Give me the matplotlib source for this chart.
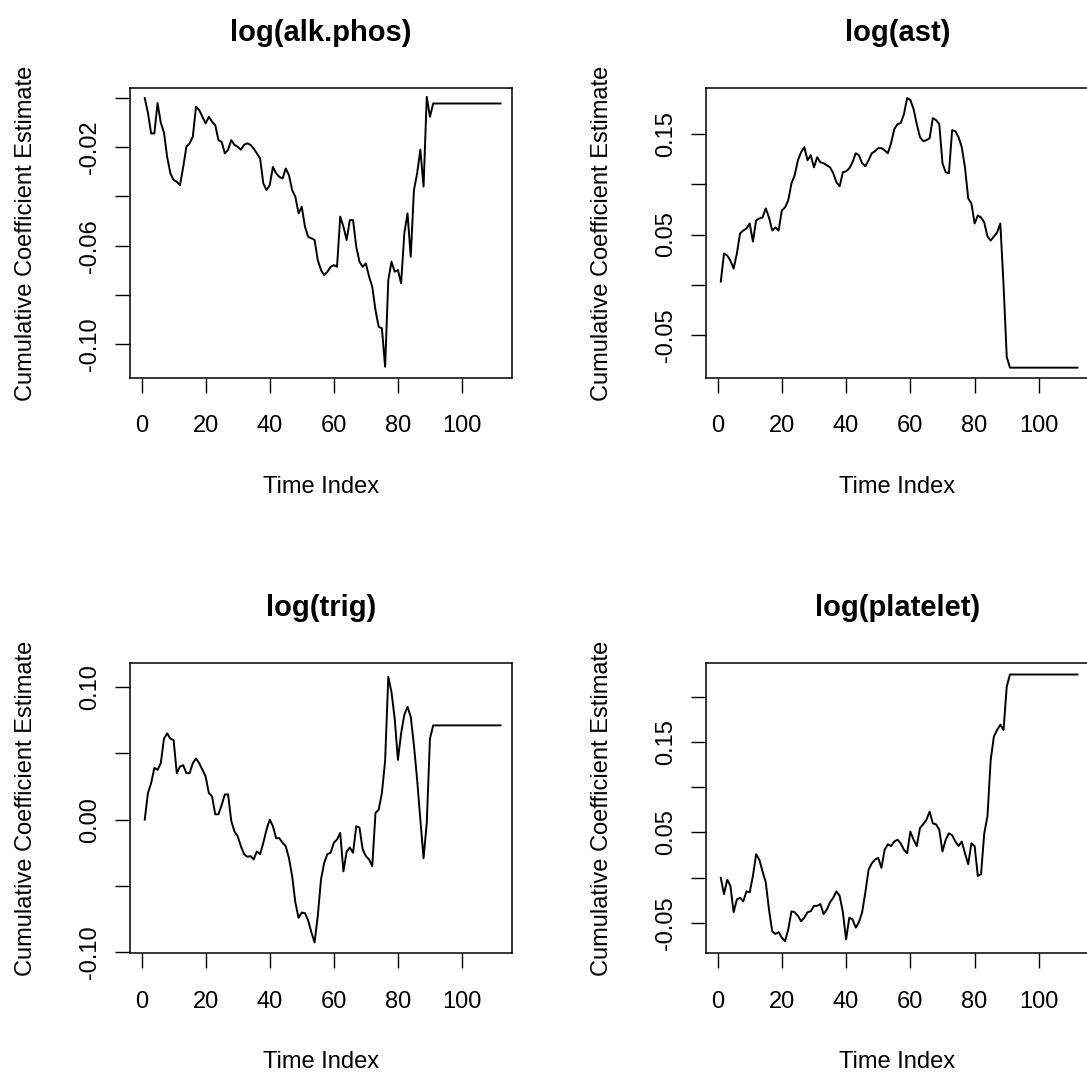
import matplotlib
matplotlib.use("Agg")
import matplotlib.pyplot as plt
import numpy as np

# cumulative coefficient estimates (time index 1..112)
alk_phos = [0.000, -0.006, -0.0144, -0.0144, -0.002, -0.010, -0.014, -0.024, -0.0306, -0.0333,
            -0.034, -0.0354, -0.028, -0.0198, -0.0184, -0.0157, -0.0035, -0.0049, -0.0076, -0.0103,
            -0.0076, -0.0096, -0.011, -0.0171, -0.0178, -0.0225, -0.021, -0.0171, -0.019, -0.0198,
            -0.021, -0.019, -0.0184, -0.019, -0.0205, -0.0225, -0.0245, -0.0347, -0.0374, -0.0354,
            -0.028, -0.0306, -0.032, -0.0327, -0.0286, -0.0313, -0.0374, -0.0401, -0.0469, -0.0442,
            -0.0523, -0.0564, -0.057, -0.0577, -0.0659, -0.0699, -0.072, -0.0706, -0.0686, -0.0679,
            -0.0686, -0.0482, -0.0523, -0.0577, -0.0496, -0.0496, -0.0604, -0.0665, -0.0686, -0.0672,
            -0.0726, -0.0767, -0.0862, -0.093, -0.0936, -0.1092, -0.074, -0.0665, -0.0706, -0.0699,
            -0.0753, -0.055, -0.0469, -0.0645, -0.0374, -0.0306, -0.021, -0.036, 0.0005, -0.0076]
alk_phos += [-0.0022] * 22

ast = [0.003, 0.031, 0.029, 0.024, 0.016, 0.031, 0.051, 0.054, 0.056, 0.061,
       0.043, 0.064, 0.066, 0.067, 0.076, 0.067, 0.054, 0.057, 0.054, 0.074,
       0.077, 0.084, 0.101, 0.109, 0.124, 0.132, 0.137, 0.124, 0.129, 0.117,
       0.127, 0.122, 0.121, 0.119, 0.117, 0.111, 0.102, 0.098, 0.112, 0.113,
       0.116, 0.122, 0.131, 0.129, 0.121, 0.118, 0.124, 0.131, 0.133, 0.136,
       0.136, 0.134, 0.131, 0.141, 0.155, 0.160, 0.161, 0.170, 0.186, 0.184,
       0.175, 0.160, 0.147, 0.143, 0.144, 0.146, 0.166, 0.164, 0.160, 0.121,
       0.112, 0.111, 0.154, 0.153, 0.147, 0.137, 0.117, 0.086, 0.081, 0.061,
       0.069, 0.067, 0.062, 0.048, 0.044, 0.048, 0.052, 0.061, 0.000, -0.072]
ast += [-0.0827] * 22

trig = [0.0, 0.020, 0.0275, 0.039, 0.0375, 0.0425, 0.061, 0.065, 0.061, 0.060,
        0.035, 0.040, 0.041, 0.035, 0.035, 0.0425, 0.046, 0.0425, 0.0375, 0.0325,
        0.020, 0.0175, 0.004, 0.004, 0.011, 0.019, 0.019, -0.001, -0.009, -0.0125,
        -0.020, -0.026, -0.028, -0.0275, -0.030, -0.024, -0.026, -0.0175, -0.0075, 0.0,
        -0.005, -0.014, -0.014, -0.0175, -0.020, -0.029, -0.0425, -0.0625, -0.074, -0.070,
        -0.0705, -0.076, -0.085, -0.0925, -0.0725, -0.045, -0.0325, -0.026, -0.025, -0.0175,
        -0.015, -0.010, -0.039, -0.024, -0.021, -0.025, -0.005, -0.006, -0.0225, -0.0275,
        -0.030, -0.035, 0.005, 0.0075, 0.020, 0.044, 0.1075, 0.096, 0.076, 0.045,
        0.065, 0.079, 0.085, 0.0775, 0.056, 0.030, 0.0, -0.029, -0.0025, 0.061]
trig += [0.071] * 22

platelet = [0.0, -0.018, -0.002, -0.009, -0.038, -0.024, -0.022, -0.026, -0.015, -0.016,
            0.002, 0.026, 0.020, 0.007, -0.005, -0.035, -0.059, -0.062, -0.060, -0.066,
            -0.070, -0.057, -0.037, -0.038, -0.042, -0.048, -0.044, -0.038, -0.037, -0.031,
            -0.031, -0.029, -0.040, -0.035, -0.027, -0.022, -0.015, -0.020, -0.038, -0.068,
            -0.044, -0.046, -0.055, -0.049, -0.038, -0.016, 0.009, 0.016, 0.020, 0.022,
            0.011, 0.031, 0.037, 0.035, 0.040, 0.042, 0.038, 0.031, 0.027, 0.051,
            0.042, 0.035, 0.055, 0.059, 0.064, 0.073, 0.060, 0.059, 0.053, 0.029,
            0.042, 0.049, 0.047, 0.040, 0.035, 0.040, 0.027, 0.015, 0.038, 0.035,
            0.002, 0.004, 0.049, 0.068, 0.130, 0.156, 0.163, 0.169, 0.163, 0.211]
platelet += [0.2243] * 22

titles = ["log(alk.phos)", "log(ast)", "log(trig)", "log(platelet)"]
series = [alk_phos, ast, trig, platelet]

yticks = [[-0.10, -0.08, -0.06, -0.04, -0.02, 0.00],
          [-0.05, 0.00, 0.05, 0.10, 0.15],
          [-0.10, -0.05, 0.00, 0.05, 0.10],
          [-0.05, 0.00, 0.05, 0.10, 0.15, 0.20]]
ytick_labels = [["-0.10", "", "-0.06", "", "-0.02", ""],
                ["-0.05", "", "0.05", "", "0.15"],
                ["-0.10", "", "0.00", "", "0.10"],
                ["-0.05", "", "0.05", "", "0.15", ""]]
ylims = [(-0.1138, 0.0041), (-0.093, 0.196), (-0.1005, 0.118), (-0.083, 0.237)]
xticks = [0, 20, 40, 60, 80, 100]

plt.rcParams["font.family"] = ["Liberation Sans", "DejaVu Sans"]

W, H = 1087, 1077
fig = plt.figure(figsize=(W / 100, H / 100), dpi=100)

# panel boxes in pixels: left, top, right, bottom
boxes = [(130, 88, 512, 378), (706, 88, 1089, 378),
         (130, 663, 512, 953), (706, 663, 1089, 953)]

for i in range(4):
    l, t, r, b = boxes[i]
    ax = fig.add_axes([l / W, 1 - b / H, (r - l) / W, (b - t) / H])
    y = series[i]
    x = np.arange(1, len(y) + 1)
    ax.plot(x, y, color="black", linewidth=1.4)
    ax.set_xlim(-3.6, 115.6)
    ax.set_ylim(*ylims[i])
    ax.set_xticks(xticks)
    ax.set_yticks(yticks[i])
    ax.set_yticklabels(ytick_labels[i], rotation=90, va="center")
    ax.tick_params(direction="out", length=11, width=1.0, labelsize=17)
    ax.tick_params(axis="x", pad=16)
    ax.tick_params(axis="y", pad=10)
    for s in ax.spines.values():
        s.set_linewidth(1.1)
    ax.set_title(titles[i], fontsize=21, fontweight="bold", pad=34)
    ax.set_xlabel("Time Index", fontsize=17, labelpad=28)
    ax.set_ylabel("Cumulative Coefficient Estimate", fontsize=17, labelpad=30)

fig.savefig("out.png", dpi=100)
